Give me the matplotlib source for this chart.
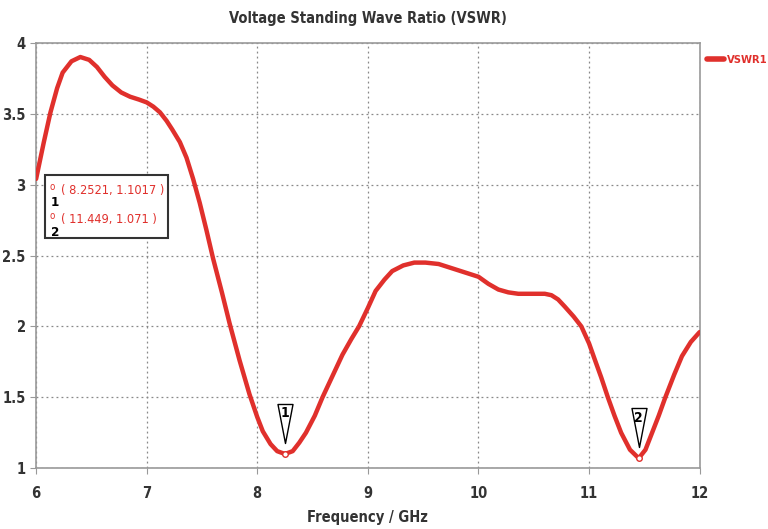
import matplotlib
matplotlib.use("Agg")
import matplotlib.pyplot as plt
from matplotlib.path import Path
from matplotlib.patches import Rectangle

plt.rcParams['font.family'] = ['DejaVu Sans']
plt.rcParams['font.stretch'] = 'condensed'

# values
freq = [6.0, 6.07, 6.13, 6.19, 6.24, 6.32, 6.40, 6.48, 6.55, 6.62, 6.69, 6.77, 6.85,
        6.93, 7.0, 7.06, 7.12, 7.18, 7.23, 7.30, 7.36, 7.42, 7.48, 7.54, 7.60, 7.68,
        7.75, 7.84, 7.93, 8.0, 8.05, 8.12, 8.18, 8.25, 8.32, 8.38, 8.44, 8.52, 8.59,
        8.68, 8.77, 8.85, 8.92, 9.0, 9.07, 9.15, 9.22, 9.32, 9.42, 9.52, 9.64, 9.76,
        9.88, 10.0, 10.09, 10.18, 10.27, 10.36, 10.45, 10.54, 10.60, 10.66, 10.72,
        10.78, 10.86, 10.93, 11.0, 11.05, 11.11, 11.17, 11.23, 11.29, 11.37, 11.449,
        11.51, 11.57, 11.63, 11.69, 11.77, 11.84, 11.92, 12.0]
vswr = [3.04, 3.30, 3.51, 3.68, 3.79, 3.87, 3.90, 3.88, 3.83, 3.76, 3.70, 3.65, 3.62,
        3.60, 3.58, 3.55, 3.51, 3.45, 3.39, 3.30, 3.19, 3.04, 2.87, 2.68, 2.48, 2.24,
        2.02, 1.76, 1.52, 1.36, 1.26, 1.17, 1.12, 1.10, 1.12, 1.18, 1.25, 1.37, 1.50,
        1.65, 1.80, 1.91, 2.00, 2.13, 2.25, 2.33, 2.39, 2.43, 2.45, 2.45, 2.44, 2.41,
        2.38, 2.35, 2.30, 2.26, 2.24, 2.23, 2.23, 2.23, 2.23, 2.22, 2.19, 2.14, 2.07,
        2.00, 1.88, 1.77, 1.64, 1.50, 1.37, 1.25, 1.13, 1.07, 1.13, 1.25, 1.37, 1.50,
        1.66, 1.79, 1.89, 1.96]

mark_x = [8.2521, 11.449]
mark_y = [1.1017, 1.071]
mark_names = ['1', '2']

xticks = [6, 7, 8, 9, 10, 11, 12]
yticks = [1, 1.5, 2, 2.5, 3, 3.5, 4]
ytick_labels = ['1', '1.5', '2', '2.5', '3', '3.5', '4']

red = '#e0302c'
dark = '#333333'

fig = plt.figure(figsize=(7.68, 5.29), dpi=100)
ax = fig.add_axes([0.047, 0.115, 0.864, 0.804])

ax.plot(freq, vswr, color=red, lw=3.2, solid_capstyle='round',
        solid_joinstyle='round', label='VSWR1', zorder=3)

# marker dots
ax.plot(mark_x, mark_y, 'o', ms=4, mfc='white', mec=red, mew=1.0, zorder=4)

# inverted triangle markers above minima
tri = Path([(-0.15, 1.0), (0.15, 1.0), (0.0, 0.22), (-0.15, 1.0)],
           [Path.MOVETO, Path.LINETO, Path.LINETO, Path.CLOSEPOLY])
ax.plot(mark_x, mark_y, linestyle='none', marker=tri, ms=72, mfc='white',
        mec='black', mew=1.0, zorder=5)
for mx, my, name in zip(mark_x, mark_y, mark_names):
    ax.annotate(name, (mx, my), xytext=(0, 29), textcoords='offset points',
                ha='center', va='center', fontsize=10, fontweight='bold', zorder=6)

ax.set_xlim(6, 12)
ax.set_ylim(1, 4)
ax.set_xticks(xticks)
ax.set_yticks(yticks)
ax.set_yticklabels(ytick_labels)
ax.grid(True, color='#888888', linestyle=(0, (1.5, 2.5)), lw=0.9)
for s in ax.spines.values():
    s.set_color('#999999')
    s.set_linewidth(1.2)
ax.tick_params(axis='both', length=4, color='#999999', labelsize=10.5)
for lbl in ax.get_xticklabels() + ax.get_yticklabels():
    lbl.set_fontweight('bold')
    lbl.set_color(dark)
ax.tick_params(axis='x', pad=9)

ax.set_title('Voltage Standing Wave Ratio (VSWR)', fontsize=10.5, fontweight='bold',
             color=dark, pad=14)
ax.set_xlabel('Frequency / GHz', fontsize=10.5, fontweight='bold', color=dark,
              labelpad=6)

# marker readout box
ax.add_patch(Rectangle((0.0136, 0.541), 0.185, 0.148, transform=ax.transAxes,
                       fc='white', ec=dark, lw=1.5, zorder=7))
line_y = [0.654, 0.584]
for i, name in enumerate(mark_names):
    ax.text(0.038, line_y[i], '( %s, %s )' % (mark_x[i], mark_y[i]),
            transform=ax.transAxes, ha='left', va='center', fontsize=9.2,
            color=red, zorder=8)
    ax.text(0.0195, line_y[i] + 0.008, 'o', transform=ax.transAxes, fontsize=7,
            color=red, ha='left', va='center', zorder=8)
    ax.text(0.0225, line_y[i] - 0.030, name, transform=ax.transAxes, fontsize=9.5,
            color='black', ha='left', va='center', fontweight='bold', zorder=8)

leg = ax.legend(loc='upper left', bbox_to_anchor=(1.0, 0.99), frameon=False,
                handlelength=1.5, fontsize=8, borderaxespad=0.3, handletextpad=0.3)
for t in leg.get_texts():
    t.set_color(red)
    t.set_fontweight('bold')
for h in leg.get_lines():
    h.set_linewidth(4)

fig.savefig('out.png', dpi=100)
